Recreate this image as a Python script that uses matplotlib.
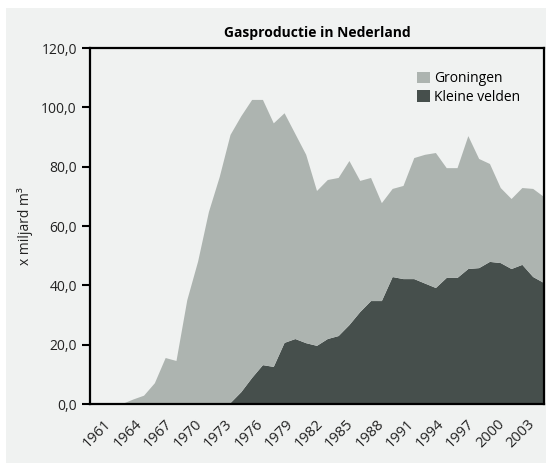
import numpy as np
import matplotlib.pyplot as plt
from matplotlib.patches import Rectangle
from matplotlib.ticker import FuncFormatter

# Gasproductie (miljard m3), 1961-2003
years = np.arange(1961, 2004)
totaal = [0, 0, 0, 0, 1.5, 2.8, 7.0, 15.5, 14.5, 35.0,
          48.0, 64.7, 76.5, 90.7, 97.0, 102.5, 102.5, 94.6, 98.0, 91.0,
          84.0, 71.8, 75.5, 76.2, 81.9, 75.2, 76.2, 67.7, 72.5, 73.5,
          82.9, 84.0, 84.6, 79.5, 79.5, 90.3, 82.6, 80.9, 72.8, 69.1,
          72.8, 72.5, 69.8]
kleine_velden = [0, 0, 0, 0, 0, 0, 0, 0, 0, 0,
                 0, 0, 0, 0.3, 4.0, 8.8, 13.1, 12.5, 20.6, 21.9,
                 20.5, 19.6, 21.9, 22.9, 26.6, 31.0, 34.7, 34.7, 42.8, 42.1,
                 42.1, 40.6, 39.1, 42.5, 42.5, 45.5, 45.8, 47.9, 47.5, 45.5,
                 46.9, 42.8, 40.8]
groningen = np.array(totaal) - np.array(kleine_velden)

label_years = np.arange(1961, 2004, 3)

bg = '#f0f2f1'
plt.rcParams['font.family'] = ['Open Sans', 'DejaVu Sans']

fig = plt.figure(figsize=(5.46, 4.63), dpi=100)
fig.patch.set_facecolor('white')
fig.patches.append(Rectangle((6 / 546, 0), 1, 455 / 463, transform=fig.transFigure,
                             facecolor=bg, edgecolor='none', zorder=-10))

ax = fig.add_axes([90 / 546, 59 / 463, 454 / 546, 356 / 463])
ax.set_facecolor(bg)

ax.stackplot(years, kleine_velden, groningen,
             colors=['#464f4c', '#adb4b0'],
             labels=['Kleine velden', 'Groningen'])

ax.set_xlim(1961, 2003)
ax.set_ylim(0, 120)
ax.set_yticks(np.arange(0, 121, 20))
ax.yaxis.set_major_formatter(FuncFormatter(lambda v, p: f'{v:.1f}'.replace('.', ',')))
ax.tick_params(axis='y', direction='out', length=6, width=1.5, labelsize=10,
               colors='black', labelcolor='#222222')

# labels van de categorie-as
label_pos = 1961 + (label_years - 1961 + 1.9) * 42 / 45
ax.set_xticks(label_pos)
ax.set_xticklabels([str(y) for y in label_years], rotation=45, ha='right',
                   va='center', rotation_mode='anchor', fontsize=10.5, color='#222222')
ax.tick_params(axis='x', length=0, pad=13)

for s in ax.spines.values():
    s.set_linewidth(1.6)
    s.set_color('black')

ax.set_ylabel('x miljard m³', fontsize=10, color='#222222', labelpad=6)
ax.set_title('Gasproductie in Nederland', fontsize=10, fontweight='bold', pad=8)

h, l = ax.get_legend_handles_labels()
ax.legend(h[::-1], l[::-1], loc='upper right', frameon=False, fontsize=10,
          handlelength=0.9, handleheight=0.9, handletextpad=0.3,
          labelspacing=0.25, bbox_to_anchor=(0.975, 0.97))

fig.savefig('out.png', dpi=100, facecolor=fig.get_facecolor())
